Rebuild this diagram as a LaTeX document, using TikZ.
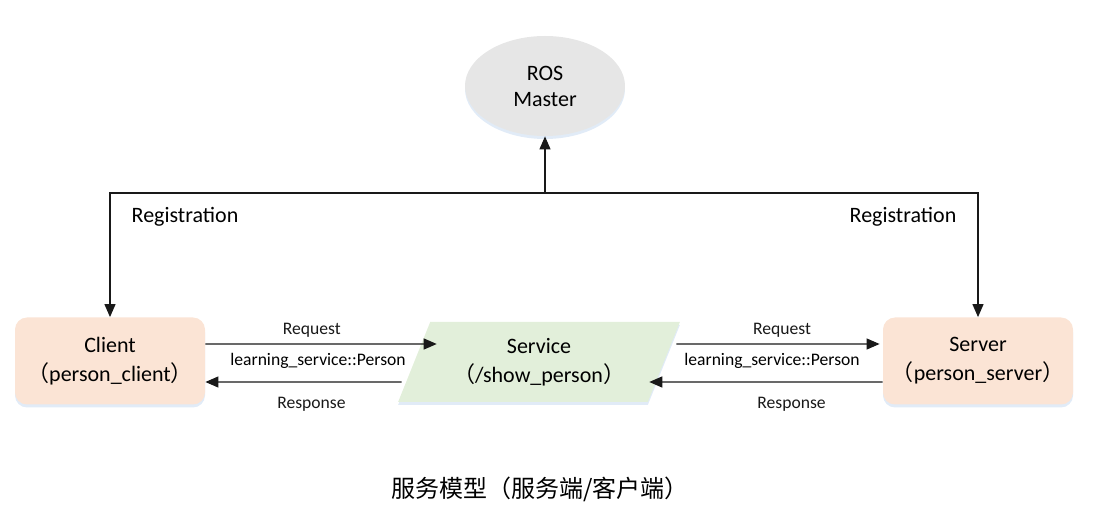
\documentclass[tikz,border=0pt]{standalone}
\usepackage{fontspec}
\setmainfont{Carlito}
\newfontfamily\cjk{Noto Sans CJK SC}
\usetikzlibrary{arrows.meta,shapes.geometric,shadows,positioning}
\definecolor{ROSgray}{HTML}{E6E6E6}
\definecolor{ROSpeach}{HTML}{FBE4D5}
\definecolor{ROSgreen}{HTML}{E2EFDA}
\definecolor{ROSglow}{HTML}{D9E6F5}
\newcommand\fwlp{{\cjk （}}
\newcommand\fwrp{{\cjk ）}}

\begin{document}
\begin{tikzpicture}[x=0.5pt,y=-0.5pt,>={Triangle[length=6.5pt,width=5.5pt]},
  glow/.style={drop shadow={fill=ROSglow,opacity=0.8,shadow xshift=0pt,shadow yshift=-1.5pt}},
  nodetxt/.style={align=center,font=\fontsize{11}{14.5}\selectfont},
  endpoint/.style={draw=none,fill=ROSpeach,rounded corners=6pt,glow,nodetxt,minimum width=95pt,minimum height=43.5pt},
  lbl/.style={font=\fontsize{8.8}{10}\selectfont,inner sep=1.5pt},
  arr/.style={->,line width=0.6pt,black!90}]
  \useasboundingbox (0,0) rectangle (1109,507);
  % nodes
  \node[ellipse,fill=ROSgray,glow,align=center,font=\fontsize{11}{13}\selectfont,minimum width=80pt,minimum height=50pt,inner sep=0pt] (master) at (545,86) {ROS\\Master};
  \node[endpoint] (client) at (110,361) {Client\\\fwlp person\_client\fwrp};
  \node[endpoint] (server) at (978,361) {Server\\\fwlp person\_server\fwrp};
  \node[trapezium,trapezium left angle=62,trapezium right angle=118,trapezium stretches=true,
    fill=ROSgreen,glow,nodetxt,minimum width=141pt,minimum height=40pt,inner sep=0pt] (service) at (539,362)
    {Service\\\fwlp/show\_person\fwrp};
  \coordinate (hub) at (545,193);
  % registration
  \draw[arr] (hub) -- (master);
  \draw[arr] (hub) -| (client);
  \draw[arr] (hub) -| (server);
  \node[nodetxt] (regl) at (185,217) {Registration};
  \node[nodetxt] (regr) at (903,217) {Registration};
  % request / response
  \draw[arr] ([yshift=8.5pt]client.east) -- node[lbl,above=1.5pt,pos=0.46] {Request} ([xshift=11.5pt,yshift=9pt]service.west);
  \draw[arr] ([xshift=-6pt,yshift=-10pt]service.west) -- node[lbl,below=6pt,pos=0.46] {Response} ([yshift=-10.5pt]client.east);
  \draw[arr] ([xshift=6pt,yshift=9pt]service.east) -- node[lbl,above=1.5pt,pos=0.52] {Request} ([xshift=-1.5pt,yshift=8.5pt]server.west);
  \draw[arr] ([yshift=-10.5pt]server.west) -- node[lbl,below=6pt,pos=0.39] {Response} ([xshift=-7.5pt,yshift=-10pt]service.east);
  \node[lbl] (msgl) at (318,361) {learning\_service::Person};
  \node[lbl] (msgr) at (772,361) {learning\_service::Person};
  % caption
  \node[font=\fontsize{12}{14}\selectfont\cjk] (caption) at (540,489) {服务模型（服务端/客户端）};
\end{tikzpicture}
\end{document}
